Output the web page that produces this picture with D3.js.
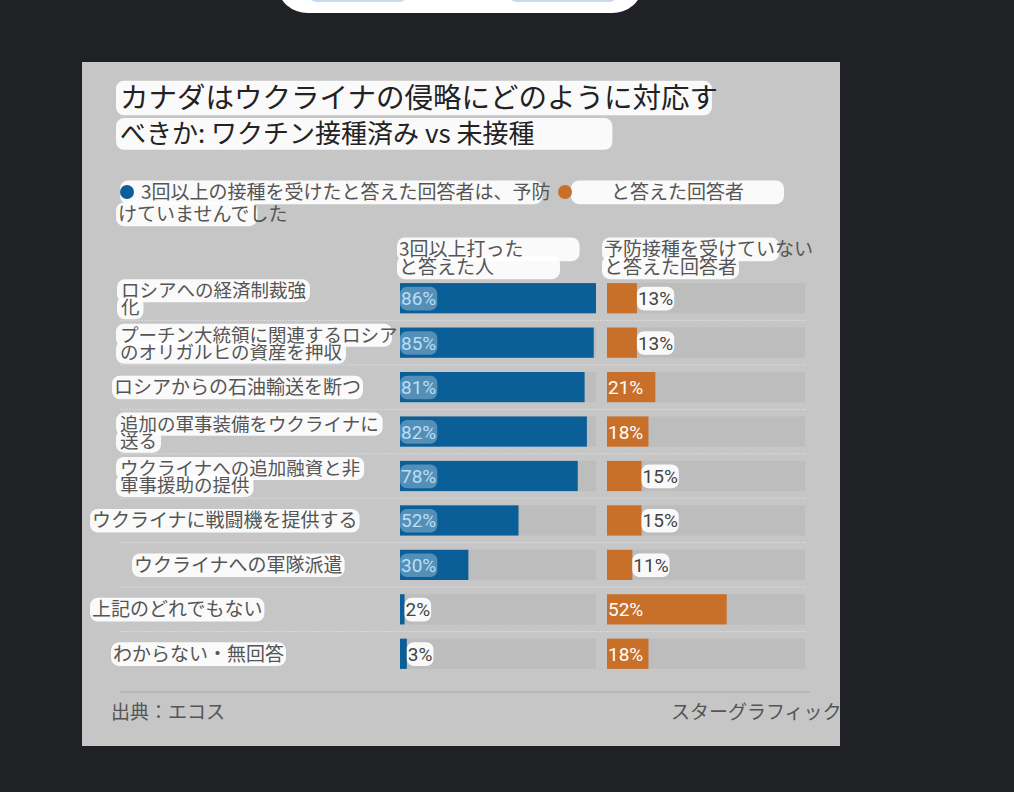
<!DOCTYPE html>
<html>
<head>
<meta charset="utf-8">
<script src="https://cdn.jsdelivr.net/npm/d3@7"></script>
<style>
  html, body { margin: 0; padding: 0; background: #202124; }
  svg { display: block; }
</style>
</head>
<body>
<svg id="chart"></svg>
<script>
/**
 * Data.
 */
var categories = [
    ["ロシアへの経済制裁強", "化"],
    ["プーチン大統領に関連するロシア", "のオリガルヒの資産を押収"],
    ["ロシアからの石油輸送を断つ"],
    ["追加の軍事装備をウクライナに", "送る"],
    ["ウクライナへの追加融資と非", "軍事援助の提供"],
    ["ウクライナに戦闘機を提供する"],
    ["ウクライナへの軍隊派遣"],
    ["上記のどれでもない"],
    ["わからない・無回答"]
];
var vaccinated = [86, 85, 81, 82, 78, 52, 30, 2, 3];
var unvaccinated = [13, 13, 21, 18, 15, 15, 11, 52, 18];
var titleLines = ["カナダはウクライナの侵略にどのように対応す", "べきか: ワクチン接種済み vs 未接種"];
var legendLines = ["3回以上の接種を受けたと答えた回答者は、予防", "と答えた回答者", "けていませんでした"];
var headerVacc = ["3回以上打った", "と答えた人"];
var headerUnvacc = ["予防接種を受けていない", "と答えた回答者"];
var source = "出典：エコス";
var credit = "スターグラフィック";

// label left edges (the translated labels are not aligned)
var labelX = [121, 120, 114, 120, 120, 92, 134, 92, 113];

var w = 1014, h = 792;
var blue = "#0b5f98", orange = "#c8702a";
var jp = "'Noto Sans CJK JP', 'Noto Sans', sans-serif";

var svg = d3.select("#chart").attr("width", w).attr("height", h);

// phone UI pill at the top
svg.append("rect").attr("x", 278).attr("y", -40).attr("width", 364).attr("height", 53)
    .attr("rx", 30).style("fill", "#fff");
svg.append("rect").attr("x", 310).attr("y", -10).attr("width", 96).attr("height", 12)
    .attr("rx", 6).style("fill", "#c6daf4");
svg.append("rect").attr("x", 510).attr("y", -10).attr("width", 106).attr("height", 12)
    .attr("rx", 6).style("fill", "#c6daf4");

svg.append("clipPath").attr("id", "panel-clip")
    .append("rect").attr("x", 82).attr("y", 62).attr("width", 758).attr("height", 684);

var g = svg.append("g").attr("clip-path", "url(#panel-clip)");
g.append("rect").attr("x", 82).attr("y", 62).attr("width", 758).attr("height", 684)
    .style("fill", "#c6c6c6");

// layers: marks under the highlight boxes, boxes under the texts
var markLayer = g.append("g");
var boxLayer = g.append("g");
var textLayer = g.append("g");

/**
 * One text element (one tspan per line), each line with a rounded
 * highlight box behind it, like the translation overlay.
 * lines: [{x, y, str, size, padL, padR, maxRight, box}]
 */
var boxedLines = function(lines, opt) {
    opt = opt || {};
    let t = textLayer.append("text")
        .style("font-family", opt.font || jp)
        .style("fill", opt.color || "#555");
    lines.forEach(function(l) {
        let size = l.size || opt.size || 19;
        let ts = t.append("tspan")
            .attr("x", l.x).attr("y", l.y)
            .style("font-size", size + "px")
            .text(l.str);
        let box = l.box !== undefined ? l.box : opt.box;
        if (box === false) return;
        let len = ts.node().getComputedTextLength();
        let pl = l.padL !== undefined ? l.padL : (opt.padL !== undefined ? opt.padL : 4);
        let pr = l.padR !== undefined ? l.padR : (opt.padR !== undefined ? opt.padR : 4);
        let x0 = l.x - pl;
        let x1 = l.x + len + pr;
        let mr = l.maxRight !== undefined ? l.maxRight : opt.maxRight;
        if (mr !== undefined) x1 = Math.min(x1, mr);
        boxLayer.append("rect")
            .attr("x", x0).attr("y", l.y - size * 0.92 - 1)
            .attr("width", x1 - x0).attr("height", size * 1.14 + 2)
            .attr("rx", opt.rx || 8)
            .style("fill", "#fff")
            .style("opacity", opt.boxOpacity || 0.9);
    });
    return t;
};

// title
boxedLines([
    {x: 120, y: 108, str: titleLines[0], size: 28.5, padR: -6},
    {x: 120, y: 143, str: titleLines[1], size: 26, padR: 78}
], {color: "#222"});

// legend
boxedLines([
    {x: 141, y: 199, str: legendLines[0], padL: 21, padR: -8},
    {x: 611, y: 199, str: legendLines[1], padL: 40, padR: 40},
    {x: 118, y: 221, str: legendLines[2], padL: 2, padR: -30}
]);
textLayer.append("circle").attr("cx", 127).attr("cy", 192).attr("r", 7).style("fill", blue);
textLayer.append("circle").attr("cx", 565).attr("cy", 192).attr("r", 7).style("fill", orange);

// scales
var y = d3.scaleBand()
    .domain(d3.range(categories.length))
    .range([276, 676])
    .paddingInner(0.32)
    .paddingOuter(0.16);

var maxVal = d3.max(vaccinated.concat(unvaccinated));
var xBlue = d3.scaleLinear().domain([0, maxVal]).range([400, 596]);
var xOrange = d3.scaleLinear().domain([0, maxVal]).range([607, 805]);

// column headers
boxedLines([
    {x: 399, y: 256, str: headerVacc[0], padR: 56},
    {x: 399, y: 274, str: headerVacc[1], padR: 66}
], {padL: 2});
boxedLines([
    {x: 604, y: 256, str: headerUnvacc[0], padR: -34},
    {x: 604, y: 274, str: headerUnvacc[1], padR: 2}
], {padL: 2});

// dotted row separators
var sepY = function(d) {
    return y(d) + y.bandwidth() + (y.step() - y.bandwidth()) / 2;
};
markLayer.selectAll(".sep")
    .data(d3.range(categories.length - 1))
    .enter()
    .append("line")
    .attr("class", "sep")
    .attr("x1", 120).attr("x2", 806)
    .attr("y1", sepY)
    .attr("y2", sepY)
    .style("stroke", "#d9d9d9")
    .style("stroke-width", 1)
    .style("stroke-dasharray", "2,1");

// tracks, bars and value labels
var drawSeries = function(values, x, color, inColor, inBox) {
    markLayer.selectAll(null)
        .data(values)
        .enter()
        .append("rect")
        .attr("x", x(0))
        .attr("y", function(d, i) { return y(i); })
        .attr("width", x(maxVal) - x(0))
        .attr("height", y.bandwidth())
        .style("fill", "#bdbdbd");
    markLayer.selectAll(null)
        .data(values)
        .enter()
        .append("rect")
        .attr("x", x(0))
        .attr("y", function(d, i) { return y(i); })
        .attr("width", function(d) { return x(d) - x(0); })
        .attr("height", y.bandwidth())
        .style("fill", color);
    values.forEach(function(d, i) {
        let inside = x(d) - x(0) > 40;
        boxedLines([{
            x: inside ? x(0) + 1 : x(d) + 1,
            y: y(i) + y.bandwidth() / 2 + 7,
            str: d + "%",
            box: inside ? inBox : true
        }], {
            font: "Roboto, 'Noto Sans', sans-serif",
            size: 19,
            color: inside ? inColor : "#444",
            boxOpacity: inside ? 0.3 : 0.9,
            padL: 1, padR: 1, rx: 7
        });
    });
};

drawSeries(vaccinated, xBlue, blue, "#b9def6", true);
drawSeries(unvaccinated, xOrange, orange, "#fff", false);

// category labels
categories.forEach(function(lines, i) {
    let cy = y(i) + y.bandwidth() / 2;
    if (lines.length === 1) {
        boxedLines([{x: labelX[i], y: cy + 7, str: lines[0]}],
            {padL: 2, padR: 2, maxRight: 392});
    } else {
        boxedLines([
            {x: labelX[i], y: cy - 1, str: lines[0]},
            {x: labelX[i], y: cy + 16, str: lines[1]}
        ], {size: 18.5, padL: 4, padR: 4, maxRight: 392});
    }
});

// footer
markLayer.append("line").attr("x1", 120).attr("x2", 810).attr("y1", 692).attr("y2", 692)
    .style("stroke", "#a9a9a9").style("stroke-width", 1.2);
boxedLines([{x: 111, y: 719, str: source}], {box: false});
boxedLines([{x: 671, y: 719, str: credit}], {box: false});
</script>
</body>
</html>
